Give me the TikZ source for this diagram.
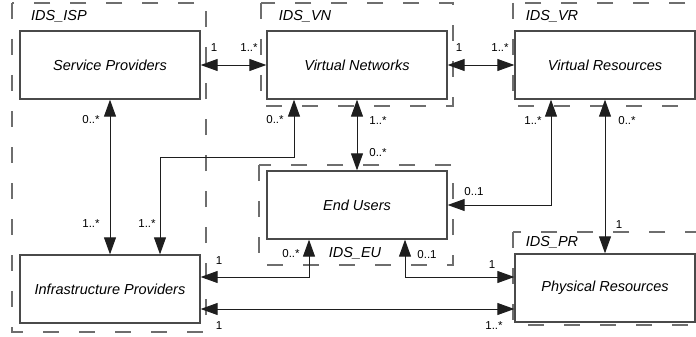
\documentclass[tikz,border=0pt]{standalone}
\usepackage{fontspec}
\setmainfont{Liberation Sans}
\usetikzlibrary{arrows.meta}
\definecolor{boxline}{HTML}{4A4A4A}
\definecolor{pkgline}{HTML}{6E6E6E}
\definecolor{conline}{HTML}{1E1E1E}
\tikzset{
  classbox/.style={draw=boxline, line width=1.3pt, fill=white, minimum width=180pt,
    minimum height=68pt, inner sep=0pt, font=\fontsize{14.5}{17}\selectfont\itshape},
  pkgframe/.style={draw=pkgline, line width=1.1pt, dash pattern=on 16pt off 20pt},
  pkgname/.style={inner sep=0pt, font=\fontsize{14.5}{17}\selectfont\itshape},
  assoc/.style={draw=conline, line width=0.9pt, {Triangle[length=17pt,width=12pt]}-{Triangle[length=17pt,width=12pt]}},
  mult/.style={inner sep=0pt, font=\fontsize{11.5}{13}\selectfont}
}
\begin{document}
\begin{tikzpicture}[x=1pt, y=-1pt]
\useasboundingbox (0,0) rectangle (696,337);
\fill[white] (0,0) rectangle (696,337);

% package frames
\begin{scope}
  \clip (0,0) rectangle (696,337);
  \draw[pkgframe] (12,3) rectangle (206,332);
  \draw[pkgframe] (261,3) rectangle (453,106);
  \draw[pkgframe] (513,3) rectangle (712,106);
  \draw[pkgframe] (259,165) rectangle (453,265);
  \draw[pkgframe] (513,232) rectangle (712,325);
\end{scope}

\node[pkgname] (lisp) at (59,16) {IDS\_ISP};
\node[pkgname] (lvn) at (305,16) {IDS\_VN};
\node[pkgname] (lvr) at (552,16) {IDS\_VR};
\node[pkgname] (leu) at (355,253) {IDS\_EU};
\node[pkgname] (lpr) at (552,242) {IDS\_PR};

% classes
\node[classbox] (sp) at (110,65) {Service Providers};
\node[classbox] (vn) at (357,65) {Virtual Networks};
\node[classbox] (vr) at (605,65) {Virtual Resources};
\node[classbox] (eu) at (357,205) {End Users};
\node[classbox] (ip) at (110,289) {Infrastructure Providers};
\node[classbox] (pr) at (605,288) {Physical Resources};

% bend points of the routed associations
\coordinate (vnip) at (294,157);
\coordinate (ipdown) at (160,157);
\coordinate (vreu) at (551,205);
\coordinate (ipeu) at (309,277);
\coordinate (eupr) at (405,277);
\coordinate (ippr) at (0,309);

% associations
\draw[assoc] (sp.east) -- (vn.west);
\draw[assoc] (vn.east) -- (vr.west);
\draw[assoc] (sp.south) -- (ip.north);
\draw[assoc] (vn.south -| vnip) |- (ipdown) -- (ip.north -| ipdown);
\draw[assoc] (vn.south) -- (eu.north);
\draw[assoc] (vr.south -| vreu) |- (eu.east);
\draw[assoc] (vr.south) -- (pr.north);
\draw[assoc] (ip.east |- ipeu) -| (eu.south -| ipeu);
\draw[assoc] (eu.south -| eupr) |- (pr.west |- eupr);
\draw[assoc] (ip.east |- ippr) -- (pr.west |- ippr);

% multiplicities
\node[mult] (m1) at (214,48) {1};
\node[mult] (m2) at (249,48) {1..*};
\node[mult] (m3) at (459,48) {1};
\node[mult] (m4) at (500,48) {1..*};
\node[mult] (m5) at (91,120) {0..*};
\node[mult] (m6) at (91,224) {1..*};
\node[mult] (m7) at (275,120) {0..*};
\node[mult] (m8) at (147,224) {1..*};
\node[mult] (m9) at (378,121) {1..*};
\node[mult] (m10) at (378,153) {0..*};
\node[mult] (m11) at (533,121) {1..*};
\node[mult] (m12) at (474,192) {0..1};
\node[mult] (m13) at (627,121) {0..*};
\node[mult] (m14) at (619,225) {1};
\node[mult] (m15) at (219,261) {1};
\node[mult] (m16) at (291,254) {0..*};
\node[mult] (m17) at (427,255) {0..1};
\node[mult] (m18) at (492,265) {1};
\node[mult] (m19) at (219,326) {1};
\node[mult] (m20) at (494,326) {1..*};
\end{tikzpicture}
\end{document}
